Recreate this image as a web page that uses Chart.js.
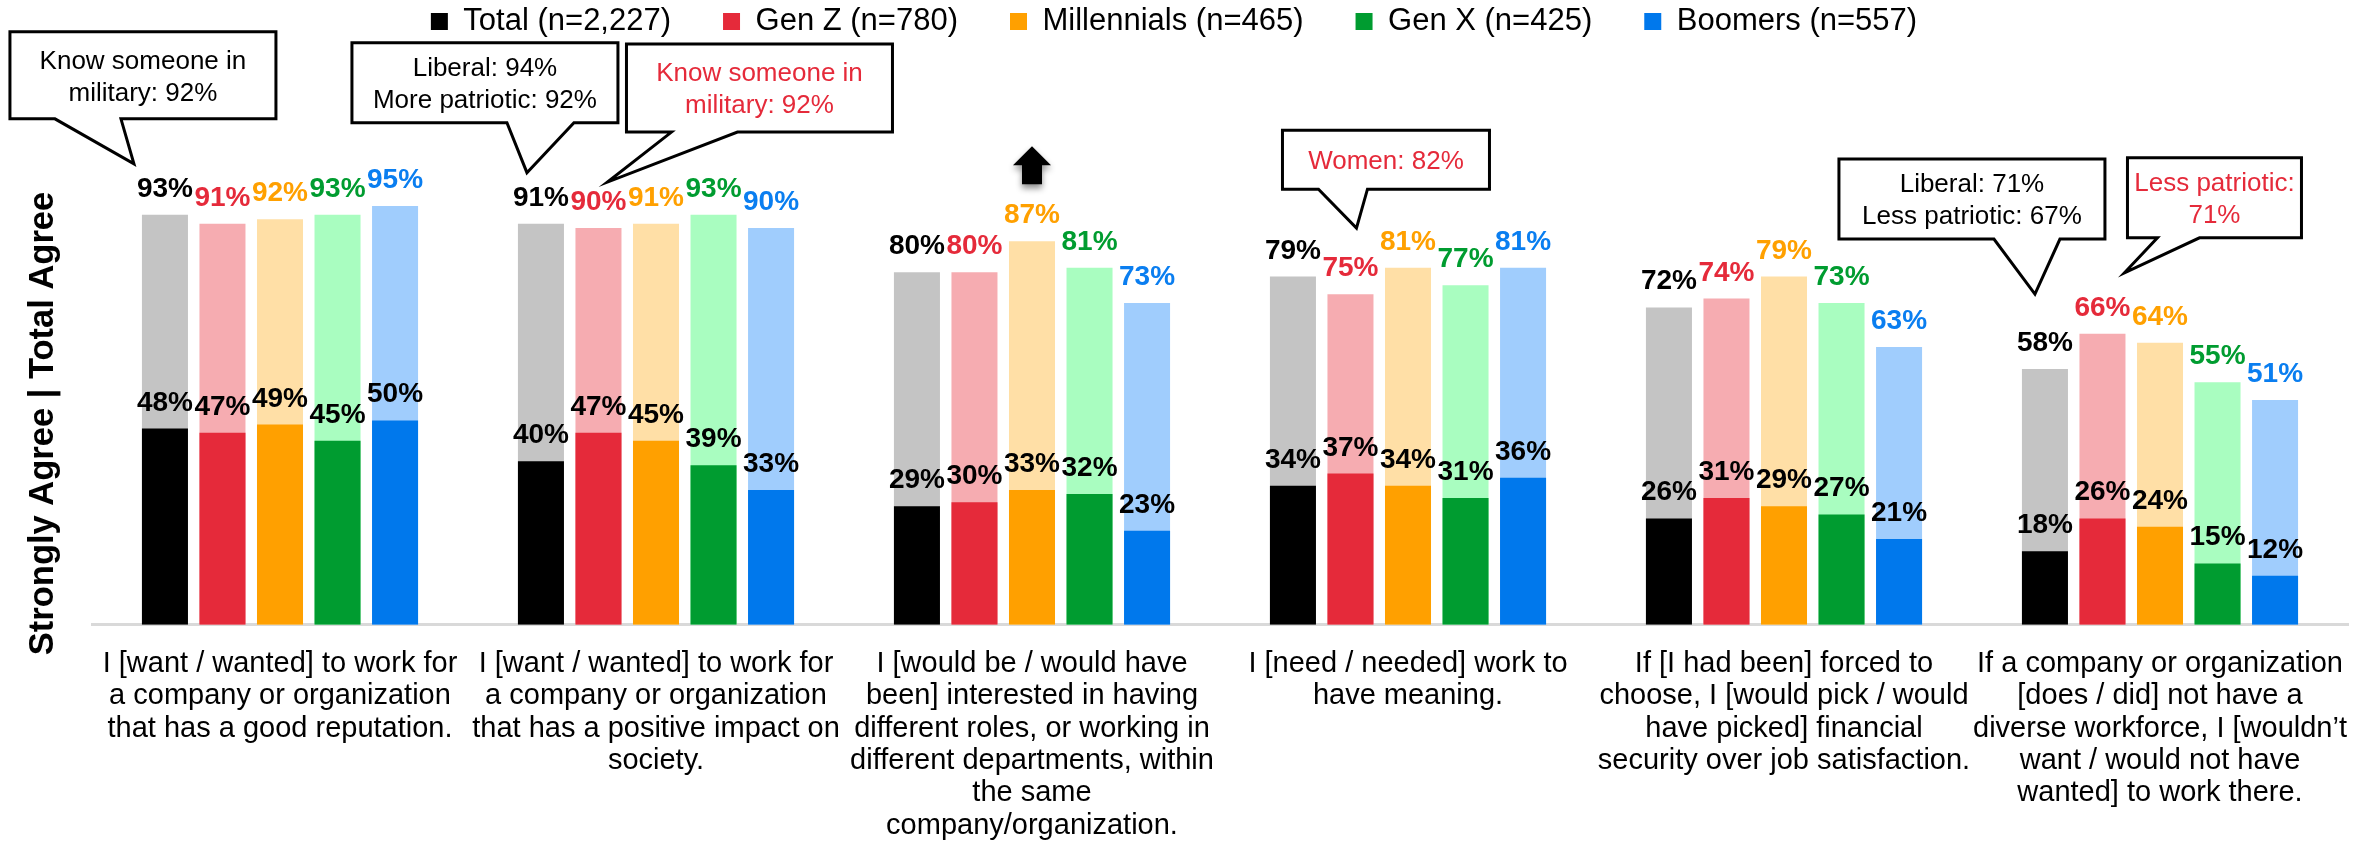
<!DOCTYPE html>
<html>
<head>
<meta charset="utf-8">
<title>Work attitudes by generation</title>
<script src="https://cdn.jsdelivr.net/npm/chart.js@4.4.1/dist/chart.umd.min.js"></script>
<style>
  html, body { margin: 0; padding: 0; background: #fff; }
  #wrap { width: 2372px; height: 848px; position: relative; }
</style>
</head>
<body>
<div id="wrap"><canvas id="chart"></canvas></div>
<script>
var categories = [
  ['I [want / wanted] to work for', 'a company or organization', 'that has a good reputation.'],
  ['I [want / wanted] to work for', 'a company or organization', 'that has a positive impact on', 'society.'],
  ['I [would be / would have', 'been] interested in having', 'different roles, or working in', 'different departments, within', 'the same', 'company/organization.'],
  ['I [need / needed] work to', 'have meaning.'],
  ['If [I had been] forced to', 'choose, I [would pick / would', 'have picked] financial', 'security over job satisfaction.'],
  ['If a company or organization', '[does / did] not have a', 'diverse workforce, I [wouldn\u2019t', 'want / would not have', 'wanted] to work there.']
];

var groups = ['Total (n=2,227)', 'Gen Z (n=780)', 'Millennials (n=465)', 'Gen X (n=425)', 'Boomers (n=557)'];

// total agree (light bars)
var totalAll         = [93, 91, 80, 79, 72, 58];
var totalGenZ        = [91, 90, 80, 75, 74, 66];
var totalMillennials = [92, 91, 87, 81, 79, 64];
var totalGenX        = [93, 93, 81, 77, 73, 55];
var totalBoomers     = [95, 90, 73, 81, 63, 51];

// strongly agree (dark bars)
var strongAll         = [48, 40, 29, 34, 26, 18];
var strongGenZ        = [47, 47, 30, 37, 31, 26];
var strongMillennials = [49, 45, 33, 34, 29, 24];
var strongGenX        = [45, 39, 32, 31, 27, 15];
var strongBoomers     = [50, 33, 23, 36, 21, 12];

var darkColors  = ['#000000', '#e52a3a', '#ffa000', '#009c30', '#0078ec'];
var lightColors = ['#c4c4c4', '#f6acb1', '#ffdfa6', '#a9fdc0', '#a0cdfd'];
var labelColors = ['#000000', '#e52a3a', '#ffa000', '#009c30', '#0a7ef0'];

// speech bubbles: anchored on a light bar (cat, series), offsets in px
var callouts = [
  { cat: 0, series: 0, tip: [-31, -51], box: [-124, -132, 266, 87], base: [-79, -13], color: '#000000', lines: ['Know someone in', 'military: 92%'] },
  { cat: 1, series: 0, tip: [-14, -51], box: [-175, -130, 266, 80], base: [-20, 47], color: '#000000', lines: ['Liberal: 94%', 'More patriotic: 92%'] },
  { cat: 1, series: 1, tip: [9, -46], box: [19, -138, 266, 88], base: [64, 130], color: '#e52a3a', lines: ['Know someone in', 'military: 92%'] },
  { cat: 3, series: 1, tip: [6, -66], box: [-74, -98, 207, 59], base: [-38, 11], color: '#e52a3a', lines: ['Women: 82%'] },
  { cat: 5, series: 0, tip: [-10, -75], box: [-196, -135, 266, 80], base: [-41, 25], color: '#000000', lines: ['Liberal: 71%', 'Less patriotic: 67%'] },
  { cat: 5, series: 1, tip: [22, -61], box: [3, -115, 174, 80], base: [33, 75], color: '#e52a3a', lines: ['Less patriotic:', '71%'] }
];
var arrowMark = { cat: 2, series: 2 };

var FONT = "'Liberation Sans', Arial, Helvetica, sans-serif";
var totals = [totalAll, totalGenZ, totalMillennials, totalGenX, totalBoomers];
var strongs = [strongAll, strongGenZ, strongMillennials, strongGenX, strongBoomers];

var datasets = [];
// dark bars first so they sit on top of the light ones
for (var i = 0; i < 5; i++) {
  datasets.push({
    label: groups[i],
    data: strongs[i],
    backgroundColor: darkColors[i],
    yAxisID: 'y2',
    stack: 'g' + i,
    barPercentage: 0.8,
    categoryPercentage: 0.765,
    labelColor: '#000000'
  });
}
for (var i = 0; i < 5; i++) {
  datasets.push({
    label: groups[i] + ' total',
    data: totals[i],
    backgroundColor: lightColors[i],
    yAxisID: 'y',
    stack: 'g' + i,
    barPercentage: 0.8,
    categoryPercentage: 0.765,
    labelColor: labelColors[i]
  });
}

var legendSpace = {
  id: 'legendSpace',
  afterInit: function (chart) {
    var legend = chart.legend;
    var fit = legend.fit;
    legend.fit = function () {
      fit.call(this);
      this.height = 230;
    };
  }
};

var valueLabels = {
  id: 'valueLabels',
  afterDatasetsDraw: function (chart) {
    var ctx = chart.ctx;
    ctx.save();
    ctx.font = 'bold 28px ' + FONT;
    ctx.textAlign = 'center';
    ctx.textBaseline = 'alphabetic';
    chart.data.datasets.forEach(function (ds, i) {
      chart.getDatasetMeta(i).data.forEach(function (bar, j) {
        ctx.fillStyle = ds.labelColor;
        ctx.fillText(ds.data[j] + '%', bar.x, bar.y - 18);
      });
    });
    ctx.restore();
  }
};

var notes = {
  id: 'notes',
  afterDraw: function (chart) {
    var ctx = chart.ctx;
    ctx.save();
    callouts.forEach(function (c) {
      var bar = chart.getDatasetMeta(5 + c.series).data[c.cat];
      var tx = bar.x + c.tip[0], ty = bar.y + c.tip[1];
      var bx = tx + c.box[0], by = ty + c.box[1], bw = c.box[2], bh = c.box[3];
      var bottom = by + bh;
      ctx.beginPath();
      ctx.moveTo(bx, by);
      ctx.lineTo(bx + bw, by);
      ctx.lineTo(bx + bw, bottom);
      ctx.lineTo(tx + c.base[1], bottom);
      ctx.lineTo(tx, ty);
      ctx.lineTo(tx + c.base[0], bottom);
      ctx.lineTo(bx, bottom);
      ctx.closePath();
      ctx.fillStyle = '#ffffff';
      ctx.fill();
      ctx.lineWidth = 3;
      ctx.lineJoin = 'miter';
      ctx.strokeStyle = '#000000';
      ctx.stroke();

      ctx.font = '26px ' + FONT;
      ctx.textAlign = 'center';
      ctx.textBaseline = 'middle';
      ctx.fillStyle = c.color;
      var cy = by + bh / 2 + 2;
      c.lines.forEach(function (line, k) {
        ctx.fillText(line, bx + bw / 2, cy + (k - (c.lines.length - 1) / 2) * 32);
      });
    });

    // up arrow over the millennials bar
    var ab = chart.getDatasetMeta(5 + arrowMark.series).data[arrowMark.cat];
    var ax = ab.x, ay = ab.y;
    ctx.beginPath();
    ctx.moveTo(ax, ay - 95);
    ctx.lineTo(ax + 19, ay - 76);
    ctx.lineTo(ax + 10, ay - 76);
    ctx.lineTo(ax + 10, ay - 57);
    ctx.lineTo(ax - 10, ay - 57);
    ctx.lineTo(ax - 10, ay - 76);
    ctx.lineTo(ax - 19, ay - 76);
    ctx.closePath();
    ctx.shadowColor = 'rgba(0,0,0,0.45)';
    ctx.shadowBlur = 6;
    ctx.shadowOffsetY = 4;
    ctx.fillStyle = '#000000';
    ctx.fill();
    ctx.restore();
  }
};

new Chart(document.getElementById('chart'), {
  type: 'bar',
  data: { labels: categories, datasets: datasets },
  options: {
    responsive: true,
    maintainAspectRatio: false,
    animation: false,
    layout: { padding: { top: -46, right: 24, left: 0, bottom: -17 } },
    plugins: {
      tooltip: { enabled: false },
      legend: {
        position: 'top',
        labels: {
          filter: function (item) { return item.datasetIndex < 5; },
          font: { family: FONT, size: 31 },
          color: '#000000',
          boxWidth: 17,
          boxHeight: 17,
          padding: 52
        }
      }
    },
    scales: {
      x: {
        grid: { display: false, drawTicks: false },
        border: { display: true, color: '#d9d9d9', width: 3 },
        ticks: {
          font: { family: FONT, size: 29, lineHeight: 1.117 },
          color: '#000000',
          padding: 23,
          maxRotation: 0,
          autoSkip: false
        }
      },
      y: {
        min: 0,
        max: 100,
        stacked: false,
        grid: { display: false },
        border: { display: false },
        ticks: { display: false },
        title: {
          display: true,
          // trailing spaces sit the text a little lower along the axis
          text: 'Strongly Agree | Total Agree    ',
          font: { family: FONT, size: 34.5, weight: 'bold' },
          color: '#000000',
          padding: { top: 23, bottom: 0 }
        },
        afterFit: function (s) { s.width = 92; }
      },
      y2: {
        display: false,
        min: 0,
        max: 107.9,
        stacked: false
      }
    }
  },
  plugins: [legendSpace, valueLabels, notes]
});
</script>
</body>
</html>
